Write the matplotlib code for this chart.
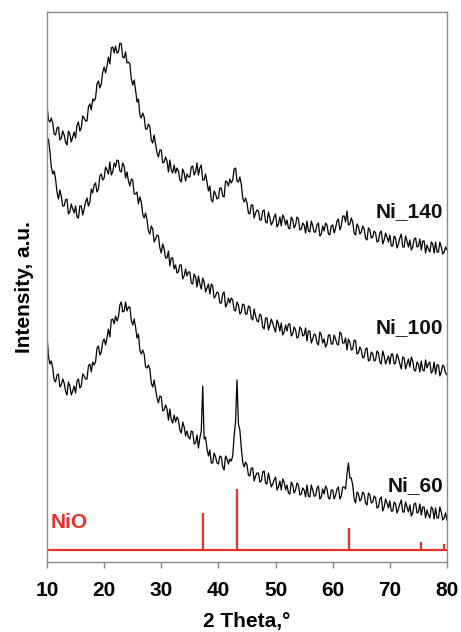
import numpy as np
import matplotlib
matplotlib.use("Agg")
import matplotlib.pyplot as plt

plt.rcParams['font.family'] = ['Liberation Sans', 'DejaVu Sans']

# 2-theta sampling (degrees): main grid and in-between samples
angles = np.arange(10, 80.001, 0.5)
mid_angles = np.arange(10.25, 79.76, 0.5)

# --- Ni_140 ---
ni140 = [457,440,439,427,435,424,427,417,428,425,
         424,440,434,444,441,458,463,464,481,478,
         495,496,498,515,516,510,518,504,499,498,
         477,472,463,444,445,433,435,419,418,405,
         412,400,401,402,389,389,391,380,389,388,
         385,396,390,387,397,382,380,376,360,368,
         364,374,365,380,383,382,394,380,378,360,
         359,348,357,349,351,342,352,339,344,340,
         348,338,336,344,342,333,342,337,343,333,
         337,341,330,336,330,339,328,331,337,327,
         337,334,343,336,346,351,338,340,327,335,
         330,333,322,332,325,329,321,331,322,325,
         327,316,324,318,328,315,321,322,315,324,
         316,312,321,317,310,318,320,310,315,310,
         312]
ni140_mid = [442,444,428,434,422,431,420,431,420,430,
             437,431,446,441,455,452,461,478,474,490,
             489,505,514,509,509,519,505,510,500,483,
             482,460,447,449,433,438,422,427,409,412,
             399,405,390,392,397,394,382,393,381,385,
             395,387,399,394,382,388,371,362,371,363,
             374,366,381,376,379,393,381,385,364,364,
             349,357,344,352,342,351,340,350,337,345,
             335,345,347,337,334,345,334,345,332,339,
             329,331,341,330,337,326,336,339,328,336,
             329,341,332,346,340,337,344,329,338,328,
             336,324,334,324,331,320,329,318,329,320,
             316,326,314,324,315,326,315,312,323,315,
             323,321,309,313,320,309,310,320,308,315]

# --- Ni_100 ---
ni100 = [422,411,388,383,363,366,356,363,350,353,
         356,344,356,353,364,360,369,379,373,388,
         384,392,400,390,395,401,390,396,390,376,
         382,368,358,360,344,342,328,333,323,326,
         309,313,304,296,304,297,290,297,286,286,
         290,278,285,286,273,280,274,268,276,266,
         269,259,270,258,259,262,251,257,250,257,
         248,255,242,246,240,246,233,244,237,239,
         230,238,239,230,231,238,228,232,225,233,
         227,221,231,223,227,217,227,223,218,227,
         218,223,217,228,219,212,220,213,221,209,
         212,205,214,202,208,202,209,198,206,202,
         198,208,199,204,193,204,198,195,201,191,
         198,201,191,194,200,191,188,197,190,195,
         187]
ni100_mid = [423,395,391,370,372,356,362,348,358,349,
             345,356,347,360,356,373,377,370,386,382,
             395,388,387,399,402,391,399,384,381,383,
             368,370,365,348,349,331,336,320,327,314,
             318,304,311,304,293,289,297,283,293,290,
             279,288,275,278,284,270,278,278,264,270,
             259,268,255,264,264,252,260,248,258,248,
             256,244,253,241,248,235,244,232,243,234,
             242,231,227,237,238,226,235,224,235,226,
             234,231,219,228,219,230,219,215,227,218,
             227,218,230,219,224,223,212,222,208,215,
             204,213,201,210,201,211,200,211,198,206,
             208,198,208,198,205,193,203,205,192,200,
             190,192,202,198,189,200,197,186,197,189]

# --- Ni_60 (sharp NiO reflections at 37.25, 43.25, 62.75) ---
ni60 = [227,198,194,180,188,177,179,167,176,171,
        169,183,176,186,183,198,200,200,216,210,
        223,224,225,243,246,245,260,251,251,255,
        237,235,228,208,208,194,193,175,173,159,
        165,152,153,153,139,140,142,129,135,131,
        123,130,119,114,131,123,113,112,99,105,
        98,105,92,103,103,106,141,138,114,95,
        97,86,94,86,89,81,91,78,82,78,
        85,75,72,80,77,68,77,72,77,68,
        72,77,65,72,66,76,65,68,73,63,
        72,67,75,66,75,88,84,77,59,68,
        63,68,57,67,60,64,55,65,55,59,
        61,51,58,53,62,50,55,57,49,59,
        50,47,55,52,44,53,54,44,50,44,
        42]
ni60_mid = [206,201,182,187,175,183,171,180,167,176,
            181,174,188,183,196,190,197,214,207,220,
            217,233,242,238,241,257,250,260,255,242,
            243,224,212,212,195,197,179,182,164,166,
            151,157,142,142,147,145,132,140,126,125,
            131,118,127,124,176,125,106,99,109,99,
            106,95,106,98,101,126,182,132,100,100,
            87,94,81,89,80,90,79,89,75,82,
            72,81,83,72,69,80,69,79,67,74,
            65,66,77,66,74,63,73,76,64,72,
            63,73,63,75,73,99,84,63,70,61,
            70,59,69,59,66,54,63,51,63,54,
            51,60,49,58,50,60,50,46,58,49,
            58,55,44,47,55,43,44,55,42,49]

# NiO reference pattern
nio_pos = [37.25, 43.25, 62.85, 75.4, 79.4]
nio_height = [37, 61, 22, 8, 6]
nio_base = 12

labels = ["Ni_140", "Ni_100", "Ni_60"]
label_y = [350, 234, 76]


def merged(main, mid):
    a = np.concatenate([angles, mid_angles])
    v = np.concatenate([main, mid])
    order = np.argsort(a)
    return a[order], v[order]


fig = plt.figure(figsize=(4.61, 6.32), dpi=100)
ax = fig.add_axes([47/461, 70/632, 400/461, 550/632])

for main, mid in [(ni140, ni140_mid), (ni100, ni100_mid), (ni60, ni60_mid)]:
    a, v = merged(main, mid)
    ax.plot(a, v, color='black', lw=0.9)

red = '#e8302c'
ax.axhline(nio_base, color=red, lw=1.6)
ax.vlines(nio_pos, nio_base, np.array(nio_height) + nio_base, color=red, lw=1.6)

for lab, yy in zip(labels, label_y):
    ax.text(79.4, yy, lab, ha='right', va='center', fontsize=15,
            fontweight='bold', color='#111111')
ax.text(10.6, 39, "NiO", ha='left', va='center', fontsize=15,
        fontweight='bold', color=red)

ax.set_xlim(10, 80)
ax.set_ylim(0, 550)
ax.set_xticks(range(10, 81, 10))
ax.set_yticks([])
ax.tick_params(axis='x', direction='out', length=4, width=1, color='#888888',
               labelsize=15, pad=10)
for lbl in ax.get_xticklabels():
    lbl.set_fontweight('bold')
for s in ax.spines.values():
    s.set_color('#8a8a8a')
    s.set_linewidth(1.0)

ax.set_xlabel("2 Theta,°", fontsize=15, fontweight='bold', labelpad=8)
ax.set_ylabel("Intensity, a.u.", fontsize=15, fontweight='bold', labelpad=9)

fig.savefig("out.png", dpi=100)
